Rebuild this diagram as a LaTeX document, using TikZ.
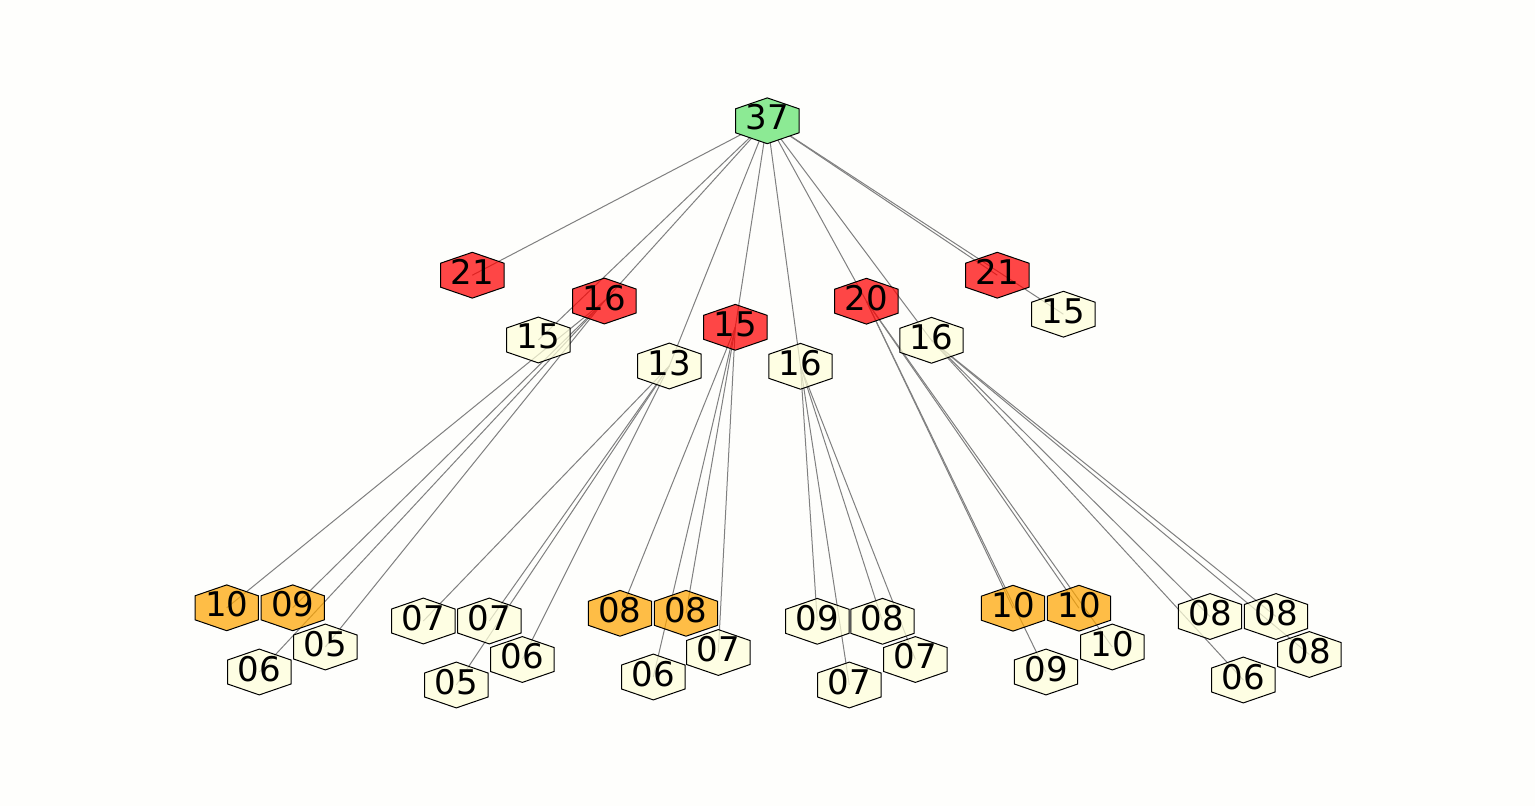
\documentclass[tikz,border=0pt]{standalone}
\usepackage{fontspec}
\setmainfont{DejaVu Sans}
\definecolor{bg}{RGB}{254,254,252}
\definecolor{hred}{RGB}{255,0,0}
\definecolor{horange}{RGB}{255,165,0}
\definecolor{hpale}{RGB}{255,255,218}
\definecolor{hgreen}{RGB}{140,234,148}
\definecolor{edgegray}{RGB}{128,128,128}
\begin{document}
\begin{tikzpicture}[x=1pt,y=-1pt,
  edge/.style={draw=edgegray, line width=1pt},
  hexbase/.style={draw=black, line width=1pt, fill opacity=0.72},
  rootbase/.style={draw=black, line width=1pt},
  lbl/.style={font=\fontsize{34}{34}\selectfont, inner sep=0pt, yshift=3.3pt, text=black},
  hex/.pic={\path[pic actions] (0,-22.9) -- (31.7,-12) -- (31.7,12) -- (0,22.9) -- (-31.7,12) -- (-31.7,-12) -- cycle;}
]
\fill[bg] (0,0) rectangle (1535,806);
\useasboundingbox (0,0) rectangle (1535,806);
\foreach \n/\x/\y in {
  r/767.3/120.8,
  a/472.3/275.2, b/604.4/301, c/538.3/340, d/669.3/366, e/735.3/327.3,
  f/800.5/366.3, g/866.4/301.2, h/931.5/340.3, i/997.3/275.2, j/1063.4/314.2,
  b1/226.7/607.8, b2/292.7/607.8, b3/259.3/672, b4/325.3/647,
  d1/423.3/621, d2/489.3/621, d3/456.3/685, d4/522.3/659.5,
  e1/620/613.3, e2/686/613.3, e3/653.3/677, e4/718.3/652.5,
  f1/817.3/621.3, f2/882.5/621.3, f3/849.3/685, f4/915.4/659.5,
  g1/1013/608.2, g2/1079/608.2, g3/1046/672, g4/1112.3/647,
  h1/1210/616.5, h2/1276/616.5, h3/1243.3/680, h4/1309.3/654.5}
  {\coordinate (\n) at (\x,\y);}
\foreach \p/\q in {
  r/a, r/b, r/c, r/d, r/e, r/f, r/g, r/h, r/i, r/j,
  b/b1, b/b2, b/b3, b/b4,
  d/d1, d/d2, d/d3, d/d4,
  e/e1, e/e2, e/e3, e/e4,
  f/f1, f/f2, f/f3, f/f4,
  g/g1, g/g2, g/g3, g/g4,
  h/h1, h/h2, h/h3, h/h4}
  {\draw[edge] (\p) -- (\q);}
\pic[rootbase, fill=hgreen] at (r) {hex};
\node[lbl] (r-t) at (r) {37};
\foreach \n/\col/\t in {
  a/hred/21, b/hred/16, c/hpale/15, d/hpale/13, e/hred/15,
  f/hpale/16, g/hred/20, h/hpale/16, i/hred/21, j/hpale/15,
  b1/horange/10, b2/horange/09, b3/hpale/06, b4/hpale/05,
  d1/hpale/07, d2/hpale/07, d3/hpale/05, d4/hpale/06,
  e1/horange/08, e2/horange/08, e3/hpale/06, e4/hpale/07,
  f1/hpale/09, f2/hpale/08, f3/hpale/07, f4/hpale/07,
  g1/horange/10, g2/horange/10, g3/hpale/09, g4/hpale/10,
  h1/hpale/08, h2/hpale/08, h3/hpale/06, h4/hpale/08}
  {\pic[hexbase, fill=\col] at (\n) {hex};
   \node[lbl] (\n-t) at (\n) {\t};}
\end{tikzpicture}
\end{document}
